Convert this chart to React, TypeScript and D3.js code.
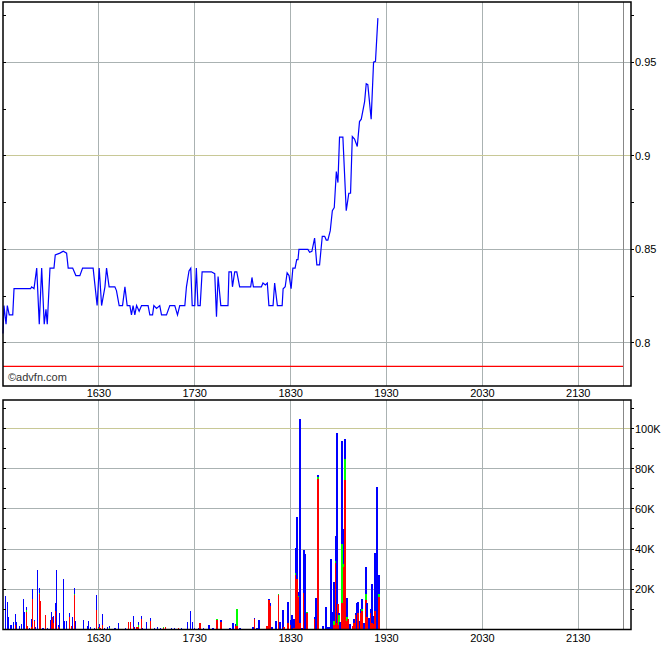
import React from "react";
import * as d3 from "d3";

// minutes after 15:30
const priceMinutes = [0,0.6,1.9,2.7,3.9,6.1,6.9,17.3,17.9,19.4,21.1,22.7,24.2,25.8,26.9,27.7,29.4,31.9,32.7,35.6,37.7,39.8,40.8,43.6,45.6,48.1,49.8,56.4,58.9,60.2,61.7,63.8,64.8,66.4,70,71,72.7,74.8,76.3,77.7,79.4,80.4,81.4,82.5,83.6,85.2,86.7,90.8,91.9,93.6,94.4,96.1,98.1,99.2,102.3,104.4,107.5,109.2,110.6,113.8,114.8,116.4,117.5,118.4,120,121,122,123.4,124.6,130.4,132.5,133.6,134.6,136.3,140.8,141.4,142.9,143.6,145,146.3,148.1,155,155.8,156.7,161.7,162.7,164.2,165.4,166.4,169,170,171.7,174.7,175.3,176.6,177.8,179,180.3,181.4,182.8,183.8,184.6,185.2,190.8,191.9,193.3,195,196.4,198.1,199.8,201.3,202.3,203.3,204.8,206.1,207.3,208.6,209.6,210.6,212.7,214.8,215.8,216.4,217.5,218.6,220,221.7,223.1,224.2,226.3,227.3,228.3,230.4,231.9,233.1,234.6];
const priceValues = [0.805,0.82,0.81,0.82,0.815,0.815,0.829,0.829,0.83,0.829,0.84,0.81,0.84,0.81,0.818,0.81,0.84,0.84,0.847,0.848,0.849,0.848,0.84,0.84,0.836,0.836,0.84,0.84,0.82,0.84,0.82,0.83,0.84,0.83,0.83,0.828,0.82,0.82,0.83,0.82,0.82,0.815,0.82,0.815,0.82,0.817,0.82,0.82,0.815,0.815,0.82,0.8185,0.82,0.815,0.815,0.82,0.82,0.815,0.82,0.82,0.83,0.8385,0.84,0.82,0.82,0.84,0.82,0.82,0.838,0.838,0.837,0.814,0.8355,0.82,0.82,0.838,0.838,0.83,0.838,0.838,0.83,0.83,0.835,0.83,0.83,0.832,0.831,0.832,0.82,0.82,0.832,0.82,0.82,0.829,0.83,0.8375,0.836,0.829,0.84,0.84,0.8445,0.8445,0.85,0.85,0.8485,0.849,0.856,0.8417,0.8417,0.857,0.857,0.855,0.855,0.86,0.8707,0.8723,0.8916,0.8857,0.91,0.91,0.8707,0.8765,0.88,0.88,0.9103,0.909,0.905,0.9183,0.9196,0.929,0.9385,0.938,0.9196,0.95,0.9505,0.9736];

const volumeMinutes = [1.3,2.7,3.3,4.8,6.4,7.7,8.3,10.2,11.4,12.7,13.3,14.6,15.2,16.4,17.7,18.3,19.6,20.2,21.4,22.7,23.3,24.6,25.2,26.4,27.7,29.6,30.2,30.8,31.4,32.7,33.3,34.6,35.2,37.7,38.3,39.6,41.4,42.7,43.3,44.6,45.2,50.2,52.7,53.3,54.6,57.1,58.3,59.6,60.2,60.8,62.1,63.3,65.2,66.4,69.6,70.2,72.1,76.4,78.3,79.6,81.4,82.1,83.3,83.9,84.6,86.4,87.1,89.6,92.1,94.6,96.4,98.3,100.2,101.4,105.2,107.1,109.6,111.4,115.2,117.1,118.3,119.6,122.1,123.1,125.2,128.3,128.9,131.4,133.9,136.4,141.9,143.9,145.2,146.4,148.3,156.4,157.1,158.9,160.2,165.2,166.4,167.1,168.3,170.8,172.1,173.3,175.2,175.8,178.3,180.2,180.8,182.1,183.3,183.9,185.2,185.8,187.1,188.3,188.9,190.2,195.2,195.8,197.1,200.2,202.1,203.3,203.9,205.2,205.8,207.1,208.3,208.9,209.6,210.2,210.8,212.1,213.3,213.9,215.2,215.8,217.1,218.9,219.6,220.8,221.4,222.1,223.3,223.9,224.6,225.8,227.1,227.7,228.9,230.2,230.8,232.1,232.7,233.9,235.2];
// thousands of shares
const volumeRed = [0,0,0,0,0,2,0,0,0,0,0,8.6,1.5,0,1,15,4,0,0,17.6,14,0,0,7,0,0,4.6,6,3,9,0,1,0,0,0,0,6,1.5,0,17,0,0,0,0,0,0,9.6,0,1,0.8,2,0,0,0,0,0,0,0,3.6,3.6,1,0,1,1,1,5,0,0,4,0,0,0,0.6,1,0,0,0.8,0,0,0,0,0,0,3,0,0,0,0,4.8,3.8,0,0,1.5,1.5,0,0,5,0,0,1.7,14.5,11.8,0,0,17,0,0,1,3,2.2,0,0.5,27,25,16,3,0,18,0,8,5,0,75,0,0,0,0,0,0,2,33,3.3,12.7,2,0,13,31.3,74.3,4,5,0,1.7,3,7.2,0,8,0,8,9,0,14.7,6,0,8,3,2.5,9.3,0,16.3];
const volumeGreen = [0,0,0,0,0,0,0,0,0,0,0,0.8,0,0,0,0,0,0,0,0.5,0,0,0,0,0,0,0,0,0,0,0,0,0,0,0,0,0,0,0,0.8,0,0,0,0,0,0,0,0.5,0,0,0,0,0,0.6,0,0,0,0,0,0,0,0,0,0,1,0,0,0,0,0,0,0,0.3,0,0,0,0,0,0,0,0,0,0,0,0,0,0,0,0.5,0,0,0,0,8.5,0,0,0,0,0,0,0,0,0,0,0.5,0,0,0,0,0,0,0,1,0,0.5,0,0,0,0,0.5,0,0,0.7,0,0,0,0,0,0,2,1,0,0,5,0,29.7,1.4,10.7,2,0,0,0,0,0,0,0,0,0,1,0,2.8,0,0,0,0,0,0,0,1.5];
const volumeBlue = [16.6,13.6,6,2,3.6,5.6,3.6,1.5,2.5,15,8.6,1.6,0,0.7,4,5,0.6,1,29.6,2.5,0,0.8,0.5,0,0.8,4.6,4,0,3.6,4,29.6,1,8,25,4,4,2,0,6,2.8,4,4.6,1.5,4,1,0.8,7.4,0.8,1.5,0,5.6,0.8,1,1,0.5,0.7,3,0.6,0,0,5.6,1,0,0,1.5,1.5,0.8,3.6,1.6,0.5,1.2,0.6,0,0,0.8,0.6,0,0.6,3.6,9,3.6,0.8,0.8,0,0.6,1.7,2.2,0.6,0,0.9,0.6,3,1,0,0.6,1,0.5,0.6,4.7,0,0.5,1.5,1,4.2,0,3.7,9.7,0,10.7,2.5,7.2,4.7,12.5,31,2,101.7,0.7,21.7,37.7,0,1.3,15.5,1,1.7,11.3,1,1,35,8.7,19.8,12.7,94.7,0,1.3,3.8,51,17.3,10,9.5,0,2.7,0,2,1.1,13,5.8,4.3,2,5,3.3,13.8,7,5.5,2,19.8,4,28.7,71,9.2];

const timeTickLabels = ["1630", "1730", "1830", "1930", "2030", "2130"];
const priceTickValues = [0.8, 0.85, 0.9, 0.95];
const priceTickLabels = ["0.8", "0.85", "0.9", "0.95"];
const volumeTickValues = [20, 40, 60, 80, 100];
const volumeTickLabels = ["20K", "40K", "60K", "80K", "100K"];
const previousClose = 0.7875;
const sessionEnd = "2158";
const sessionStart = "1530";
const sessionLast = "2203";

const toMinutes = (l: string) => {
  const h = +l.slice(0, 2), m = +l.slice(2);
  const s = +sessionStart.slice(0, 2) * 60 + +sessionStart.slice(2);
  return h * 60 + m - s;
};

export default function App() {
  const W = 670, H = 647;
  const L = 3, R = 631;
  const tY0 = 2, tY1 = 386;
  const bY0 = 400, bY1 = 629.5;
  const x = d3.scaleLinear().domain([0, toMinutes(sessionLast)]).range([L, R]);
  const yP = d3.scaleLinear().domain([0.777, 0.9822]).range([tY1, tY0]);
  const yV = d3.scaleLinear().domain([0, 114.3]).range([bY1 - 0.2, bY0]);
  const font = "'Liberation Sans', Arial, sans-serif";
  const grid = "#aab2b2";
  const gridHi = "#c8c896";

  const pts: [number, number][] = priceMinutes.map((t, i) => [t, priceValues[i]]);
  const line = d3.line<[number, number]>().x(d => x(d[0])).y(d => yP(d[1]));

  const priceMinor = d3.range(0.8, 0.98, 0.025);
  const volMinor = d3.range(10, 114, 10);
  const endX = x(toMinutes(sessionEnd));

  return (
    <div style={{ position: "absolute", left: 0, top: 0 }}>
      <svg width={W} height={H} style={{ display: "block", background: "#fff" }}>
        {/* top panel grid */}
        {timeTickLabels.map(l => (
          <line key={"tv" + l} x1={x(toMinutes(l))} x2={x(toMinutes(l))} y1={tY0} y2={tY1} stroke={grid} strokeWidth={1} shapeRendering="crispEdges" />
        ))}
        {priceTickValues.map((v, i) => (
          <line key={"th" + v} x1={L} x2={R} y1={yP(v)} y2={yP(v)} stroke={i === 2 ? gridHi : grid} strokeWidth={1} shapeRendering="crispEdges" />
        ))}
        <line x1={endX} x2={endX} y1={tY0} y2={tY1} stroke="#888" strokeWidth={1} shapeRendering="crispEdges" />
        <line x1={L} x2={endX} y1={yP(previousClose)} y2={yP(previousClose)} stroke="#ff0000" strokeWidth={1.2} />
        <path d={line(pts) || ""} fill="none" stroke="#0000ff" strokeWidth={1.2} />
        <text x={8} y={381} fontFamily={font} fontSize={11} fill="#333">©advfn.com</text>
        <rect x={L} y={tY0} width={R - L} height={tY1 - tY0} fill="none" stroke="#000" strokeWidth={1.5} />
        {priceMinor.map(v => (
          <g key={"pt" + v}>
            <line x1={L} x2={L + 3} y1={yP(v)} y2={yP(v)} stroke="#000" shapeRendering="crispEdges" />
            <line x1={R} x2={R + 3} y1={yP(v)} y2={yP(v)} stroke="#000" shapeRendering="crispEdges" />
          </g>
        ))}
        {priceTickValues.map((v, i) => (
          <text key={"pl" + v} x={R + 4} y={yP(v) + 4} fontFamily={font} fontSize={11} fill="#000">{priceTickLabels[i]}</text>
        ))}
        {timeTickLabels.map(l => (
          <text key={"tl" + l} x={x(toMinutes(l))} y={397} textAnchor="middle" fontFamily={font} fontSize={11} fill="#000">{l}</text>
        ))}

        {/* bottom panel grid */}
        {timeTickLabels.map(l => (
          <line key={"bv" + l} x1={x(toMinutes(l))} x2={x(toMinutes(l))} y1={bY0} y2={bY1} stroke={grid} strokeWidth={1} shapeRendering="crispEdges" />
        ))}
        {volumeTickValues.map((v, i) => (
          <line key={"bh" + v} x1={L} x2={R} y1={yV(v)} y2={yV(v)} stroke={i === 4 ? gridHi : grid} strokeWidth={1} shapeRendering="crispEdges" />
        ))}
        <line x1={endX} x2={endX} y1={bY0} y2={bY1} stroke="#888" strokeWidth={1} shapeRendering="crispEdges" />
        {volumeMinutes.map((t, i) => {
          const r = volumeRed[i], g = volumeGreen[i], b = volumeBlue[i];
          const bx = x(t) - 0.5;
          const w = 1.6;
          return (
            <g key={"v" + i} shapeRendering="crispEdges">
              {r > 0 && <rect x={bx} width={w} y={yV(r)} height={yV(0) - yV(r)} fill="#ff0000" />}
              {g > 0 && <rect x={bx} width={w} y={yV(r + g)} height={yV(r) - yV(r + g)} fill="#00ff00" />}
              {b > 0 && <rect x={bx} width={w} y={yV(r + g + b)} height={yV(r + g) - yV(r + g + b)} fill="#0000ff" />}
            </g>
          );
        })}
        <rect x={L} y={bY0} width={R - L} height={bY1 - bY0} fill="none" stroke="#000" strokeWidth={1.5} />
        {volMinor.map(v => (
          <g key={"vt" + v}>
            <line x1={L} x2={L + 3} y1={yV(v)} y2={yV(v)} stroke="#000" shapeRendering="crispEdges" />
            <line x1={R} x2={R + 3} y1={yV(v)} y2={yV(v)} stroke="#000" shapeRendering="crispEdges" />
          </g>
        ))}
        {volumeTickValues.map((v, i) => (
          <text key={"vl" + v} x={R + 4} y={yV(v) + 4} fontFamily={font} fontSize={11} fill="#000">{volumeTickLabels[i]}</text>
        ))}
        {timeTickLabels.map(l => (
          <text key={"bl" + l} x={x(toMinutes(l))} y={642} textAnchor="middle" fontFamily={font} fontSize={11} fill="#000">{l}</text>
        ))}
      </svg>
    </div>
  );
}
